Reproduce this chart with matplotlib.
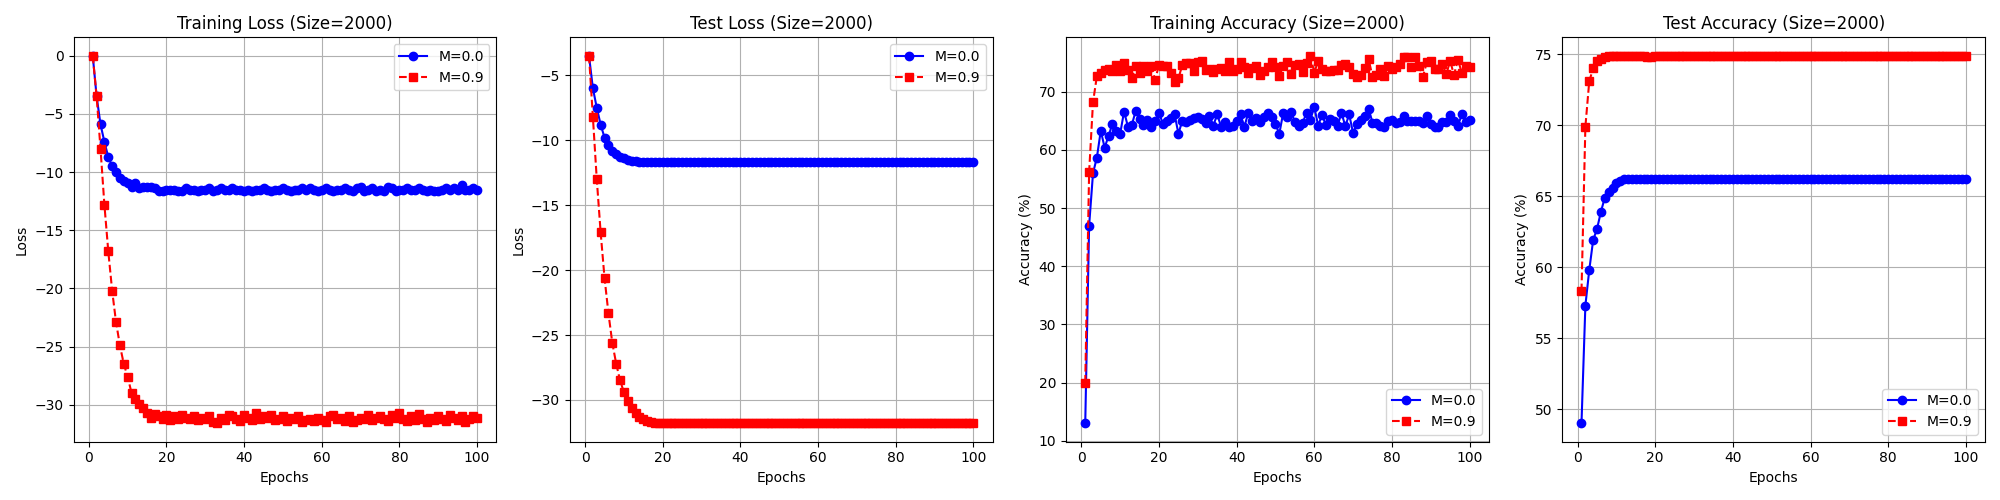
import matplotlib
matplotlib.use("Agg")
import matplotlib.pyplot as plt

epochs = list(range(1, 101))

# training loss
train_loss_m0 = [0.0, -3.5, -5.9, -7.4, -8.7, -9.5, -10.0, -10.5, -10.8, -10.9,
                 -11.3, -10.9, -11.4, -11.3, -11.3, -11.3, -11.4, -11.6, -11.6, -11.5,
                 -11.5, -11.5, -11.6, -11.6, -11.4, -11.5, -11.5, -11.6, -11.5, -11.5,
                 -11.4, -11.6, -11.5, -11.4, -11.5, -11.5, -11.4, -11.5, -11.5, -11.6,
                 -11.5, -11.6, -11.5, -11.5, -11.4, -11.5, -11.6, -11.5, -11.5, -11.4,
                 -11.5, -11.6, -11.5, -11.5, -11.4, -11.5, -11.4, -11.5, -11.6, -11.5,
                 -11.4, -11.5, -11.6, -11.5, -11.5, -11.4, -11.5, -11.6, -11.4, -11.3,
                 -11.6, -11.5, -11.4, -11.6, -11.5, -11.6, -11.3, -11.4, -11.6, -11.5,
                 -11.5, -11.4, -11.5, -11.5, -11.4, -11.5, -11.6, -11.5, -11.6, -11.6,
                 -11.5, -11.4, -11.5, -11.4, -11.5, -11.1, -11.5, -11.5, -11.4, -11.5]
train_loss_m9 = [0.0, -3.5, -8.0, -12.8, -16.8, -20.2, -22.9, -24.9, -26.5, -27.6,
                 -29.0, -29.5, -29.9, -30.3, -30.7, -31.1, -30.8, -31.0, -31.2, -30.9,
                 -31.3, -31.0, -31.2, -30.9, -31.1, -31.2, -31.0, -31.3, -31.1, -31.2,
                 -31.0, -31.5, -31.6, -31.1, -31.3, -30.9, -31.0, -31.2, -31.4, -30.9,
                 -31.1, -31.3, -30.7, -31.2, -31.0, -31.1, -30.9, -31.3, -31.2, -31.0,
                 -31.4, -31.1, -31.2, -31.0, -31.5, -31.3, -31.2, -31.4, -31.1, -31.3,
                 -31.5, -31.0, -30.9, -31.2, -31.1, -31.4, -31.0, -31.5, -31.3, -31.1,
                 -31.2, -30.9, -31.3, -31.1, -31.0, -31.2, -31.4, -30.9, -31.1, -30.7,
                 -31.2, -31.4, -31.0, -31.3, -30.8, -31.2, -31.5, -31.1, -31.3, -31.0,
                 -31.2, -31.4, -30.9, -31.1, -31.3, -31.0, -31.5, -31.2, -31.0, -31.1]

# test loss
test_loss_m0 = [-3.5, -6.0, -7.5, -8.8, -9.8, -10.4, -10.8, -11.1, -11.3, -11.4,
                -11.5, -11.6, -11.6, -11.65, -11.7, -11.7] + [-11.7] * 84
test_loss_m9 = [-3.5, -8.2, -13.0, -17.1, -20.6, -23.3, -25.6, -27.2, -28.5, -29.4,
                -30.1, -30.6, -31.0, -31.3, -31.5, -31.6, -31.7, -31.75, -31.8, -31.8] + [-31.8] * 80

# training accuracy
train_acc_m0 = [13.0, 47.0, 56.0, 58.7, 63.3, 60.4, 62.4, 64.5, 63.3, 62.8,
                66.6, 64.0, 64.3, 66.7, 65.4, 64.3, 65.1, 63.9, 64.9, 66.4,
                64.5, 65.0, 65.5, 66.2, 62.8, 65.0, 64.8, 65.2, 65.5, 65.7,
                65.3, 64.6, 65.9, 64.2, 66.1, 64.0, 64.8, 63.9, 64.1, 65.0,
                66.1, 64.0, 66.4, 64.9, 65.5, 64.8, 65.6, 66.3, 65.7, 64.4,
                62.8, 66.4, 65.6, 66.6, 64.8, 64.2, 64.6, 66.4, 65.2, 67.4,
                64.2, 66.0, 64.3, 65.4, 65.0, 64.1, 66.4, 64.1, 66.1, 62.9,
                64.5, 65.2, 65.8, 67.1, 64.7, 64.7, 64.2, 64.0, 64.9, 65.1,
                64.7, 64.8, 65.8, 65.0, 65.0, 64.9, 65.0, 64.6, 65.9, 64.4,
                63.9, 64.0, 64.8, 64.8, 66.0, 64.9, 64.1, 66.1, 64.8, 65.2]
train_acc_m9 = [20.0, 56.2, 68.2, 72.7, 73.3, 73.8, 74.0, 73.6, 74.6, 73.6,
                75.0, 73.7, 72.3, 74.5, 73.3, 74.5, 73.5, 74.5, 72.1, 74.6,
                74.4, 74.5, 73.3, 71.6, 72.3, 74.6, 75.0, 74.9, 73.6, 75.2,
                75.3, 73.8, 74.0, 73.4, 73.9, 74.1, 73.6, 75.1, 73.5, 73.9,
                75.2, 74.3, 73.3, 74.1, 74.4, 72.9, 73.5, 74.2, 75.2, 74.3,
                72.7, 74.5, 75.1, 73.0, 74.6, 74.8, 73.4, 74.9, 76.2, 73.3,
                75.3, 74.0, 73.6, 73.5, 73.8, 73.7, 74.6, 74.8, 74.2, 73.0,
                72.6, 72.9, 74.1, 75.6, 72.6, 72.8, 74.0, 72.7, 74.4, 74.0,
                74.2, 74.8, 76.0, 75.9, 74.3, 76.0, 74.4, 72.6, 75.1, 75.3,
                74.0, 73.9, 74.7, 73.0, 75.3, 72.9, 75.5, 73.3, 74.4, 74.2]

# test accuracy
test_acc_m0 = [49.0, 57.3, 59.8, 61.9, 62.7, 63.9, 64.9, 65.3, 65.6, 65.9,
               66.1, 66.2, 66.2, 66.2] + [66.2] * 86
test_acc_m9 = [58.3, 69.9, 73.1, 74.0, 74.5, 74.7, 74.8, 74.85, 74.9, 74.9,
               74.9, 74.9, 74.9, 74.9, 74.9, 74.9, 74.85, 74.8, 74.8, 74.85] + [74.9] * 80

panels = [
    ("Training Loss (Size=2000)", "Loss", train_loss_m0, train_loss_m9, "upper right"),
    ("Test Loss (Size=2000)", "Loss", test_loss_m0, test_loss_m9, "upper right"),
    ("Training Accuracy (Size=2000)", "Accuracy (%)", train_acc_m0, train_acc_m9, "lower right"),
    ("Test Accuracy (Size=2000)", "Accuracy (%)", test_acc_m0, test_acc_m9, "lower right"),
]

fig, axes = plt.subplots(1, 4, figsize=(20, 5), dpi=100)
for ax, (title, ylab, m0, m9, loc) in zip(axes, panels):
    ax.plot(epochs, m0, "b-o", label="M=0.0")
    ax.plot(epochs, m9, "r--s", label="M=0.9")
    ax.set_title(title)
    ax.set_xlabel("Epochs")
    ax.set_ylabel(ylab)
    ax.grid(True)
    ax.legend(loc=loc)

plt.tight_layout()
plt.savefig("out.png")
